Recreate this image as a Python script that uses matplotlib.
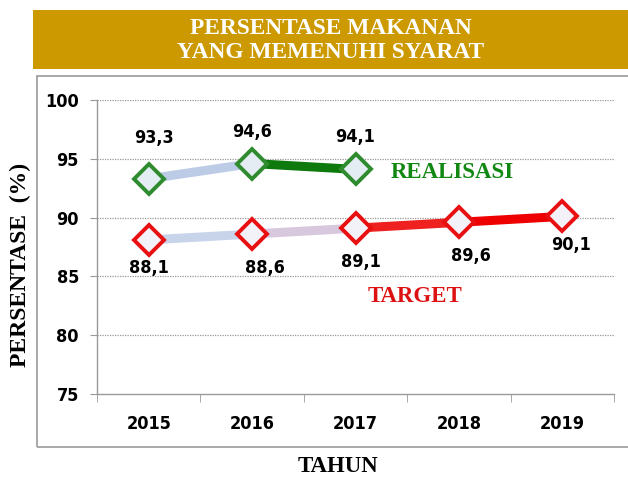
import matplotlib
matplotlib.use("Agg")
import matplotlib.pyplot as plt
from matplotlib.patches import Rectangle
from matplotlib import font_manager as fm
import numpy as np

years = ["2015", "2016", "2017", "2018", "2019"]
realisasi = [93.3, 94.6, 94.1]
target = [88.1, 88.6, 89.1, 89.6, 90.1]
yticks = [75, 80, 85, 90, 95, 100]

real_label_off = [(3.6, 29.5), (0, 22.7), (0, 23)]
targ_label_off = [(0, -20), (9, -24.5), (3.6, -24.5), (8.6, -24), (6.5, -20.5)]

fig = plt.figure(figsize=(6.28, 4.79), dpi=100)
fig.patch.set_facecolor("white")

serif = ["Liberation Serif", "DejaVu Serif"]
cond = [f for f in fm.fontManager.ttflist if f.name == "DejaVu Sans" and f.stretch == "condensed"]
narrow_prop = dict(family=["DejaVu Sans"], fontstretch="condensed") if cond else dict(family=["Liberation Sans"])

# banner
fig.patches.append(Rectangle((33/628, 1-69/479), 2.0, 59/479, transform=fig.transFigure,
                             facecolor="#CC9900", edgecolor="none", zorder=0))
fig.text(0.5*(33/628+1), 1-28/479, "PERSENTASE MAKANAN", color="white", fontsize=16.8,
         fontweight="bold", family=serif, ha="center", va="center")
fig.text(0.5*(33/628+1), 1-53/479, "YANG MEMENUHI SYARAT", color="white", fontsize=16.8,
         fontweight="bold", family=serif, ha="center", va="center")

# chart box (right side runs off the picture)
fig.patches.append(Rectangle((37/628, 1-447/479), 2.0, 371/479, transform=fig.transFigure,
                             facecolor="none", edgecolor="#999999", linewidth=1.2, zorder=0))

ax = fig.add_axes([97/628, 1-394/479, 517/628, 294/479])
ax.set_facecolor("none")
x = np.arange(len(years))
ax.set_xlim(-0.5, len(years)-0.5)
ax.set_ylim(75, 100)

for v in yticks[1:]:
    ax.axhline(v, color="#999999", linestyle=(0, (1, 1)), linewidth=0.9, zorder=1)

for s in ["top", "right"]:
    ax.spines[s].set_visible(False)
for s in ["left", "bottom"]:
    ax.spines[s].set_color("#999999")
    ax.spines[s].set_linewidth(1.0)

ax.set_yticks(yticks)
ax.set_yticklabels([str(t) for t in yticks], fontsize=13, fontweight="bold", **narrow_prop)
ax.set_xticks(x)
ax.set_xticklabels(years, fontsize=13, fontweight="bold", **narrow_prop)
ax.tick_params(axis="x", length=0, pad=15)
ax.tick_params(axis="y", length=5, color="#999999", pad=8)
ax.set_xticks(np.arange(len(years)+1)-0.5, minor=True)
ax.tick_params(axis="x", which="minor", length=6, color="#999999")

# gradient-like segments
real_seg_cols = ["#BCCBE6", "#0E7A0E"]
targ_seg_cols = ["#C8D4EA", "#D8C8DE", "#EE2020", "#EE0000"]
for i in range(len(realisasi)-1):
    ax.plot(x[i:i+2], realisasi[i:i+2], color=real_seg_cols[i], linewidth=6.5,
            solid_capstyle="round", zorder=3)
for i in range(len(target)-1):
    ax.plot(x[i:i+2], target[i:i+2], color=targ_seg_cols[i], linewidth=6.5,
            solid_capstyle="round", zorder=3)

ax.plot(x[:len(realisasi)], realisasi, linestyle="none", marker="D", markersize=15,
        markerfacecolor="#E4ECF4", markeredgecolor="#2E8B2E", markeredgewidth=2.8, zorder=5)
ax.plot(x, target, linestyle="none", marker="D", markersize=15,
        markerfacecolor="#F2F2F8", markeredgecolor="#E81010", markeredgewidth=2.8, zorder=5)

for i, v in enumerate(realisasi):
    ax.annotate(f"{v:.1f}".replace(".", ","), (x[i], v), xytext=real_label_off[i],
                textcoords="offset points", ha="center", va="center",
                fontsize=13, fontweight="bold", zorder=6, **narrow_prop)
for i, v in enumerate(target):
    ax.annotate(f"{v:.1f}".replace(".", ","), (x[i], v), xytext=targ_label_off[i],
                textcoords="offset points", ha="center", va="center",
                fontsize=13, fontweight="bold", zorder=6, **narrow_prop)

ax.text(2.94, 93.8, "REALISASI", color="#118811", fontsize=16.5, fontweight="bold",
        family=serif, ha="center", va="center")
ax.text(2.58, 83.3, "TARGET", color="#DD1111", fontsize=16.5, fontweight="bold",
        family=serif, ha="center", va="center")

fig.text(20/628, 1-265/479, "PERSENTASE  (%)", rotation=90, fontsize=17, fontweight="bold",
         family=serif, ha="center", va="center")
fig.text(338/628, 1-467/479, "TAHUN", fontsize=16.5, fontweight="bold",
         family=serif, ha="center", va="center")

fig.savefig("out.png", dpi=100)
